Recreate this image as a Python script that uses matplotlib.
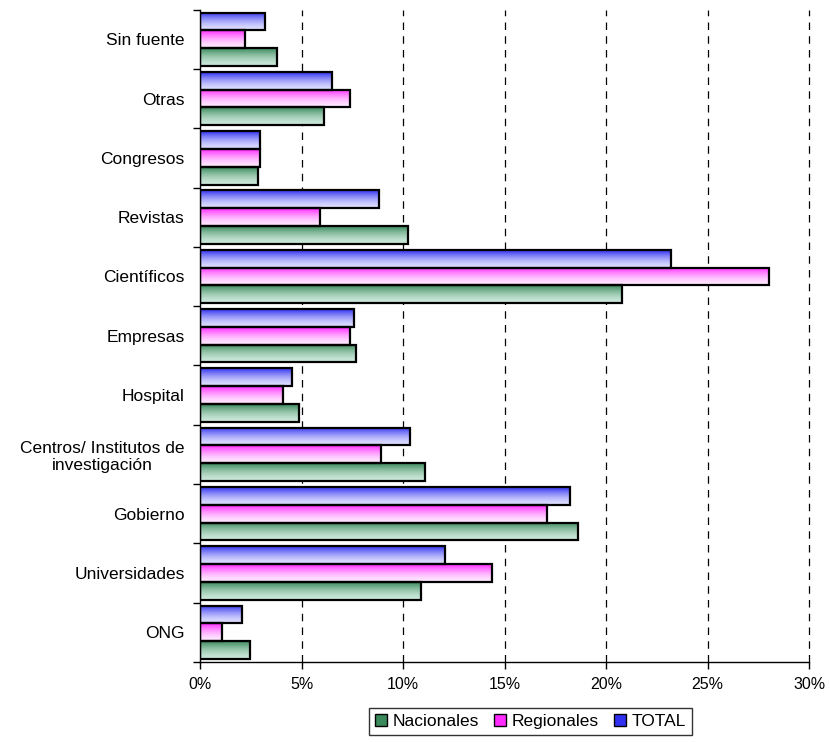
import numpy as np
import matplotlib
matplotlib.use("Agg")
import matplotlib.pyplot as plt
from matplotlib.patches import Patch
from matplotlib.colors import LinearSegmentedColormap
from matplotlib.ticker import FixedLocator, FuncFormatter

plt.rcParams["font.family"] = ["Liberation Sans", "DejaVu Sans"]

# ---- Data (bottom to top) ----
categories = ["ONG", "Universidades", "Gobierno", "Centros/ Institutos de\ninvestigación",
              "Hospital", "Empresas", "Científicos", "Revistas", "Congresos", "Otras",
              "Sin fuente"]
nacionales = [2.45, 10.9, 18.6, 11.1, 4.85, 7.7, 20.8, 10.25, 2.85, 6.1, 3.8]
regionales = [1.1, 14.4, 17.1, 8.9, 4.1, 7.4, 28.0, 5.9, 2.95, 7.4, 2.2]
total = [2.05, 12.05, 18.2, 10.35, 4.55, 7.6, 23.2, 8.8, 2.95, 6.5, 3.2]

series = [
    ("Nacionales", nacionales, "#3a8a5c", "#cce8da", -0.3),
    ("Regionales", regionales, "#ff2bff", "#ffe8ff", 0.0),
    ("TOTAL", total, "#3030f0", "#dedeff", 0.3),
]

fig = plt.figure(figsize=(8.3, 7.42), dpi=100)
ax = fig.add_axes([0.241, 0.108, 0.734, 0.879])

y = np.arange(len(categories))
bar_h = 0.3
# row 0 = bottom (light), last row = top (dark)
grad = (np.linspace(0, 1, 64) ** 1.6).reshape(-1, 1)

for name, vals, dark, light, off in series:
    cmap = LinearSegmentedColormap.from_list(name, [light, dark])
    bars = ax.barh(y + off, vals, height=bar_h, color="none",
                   edgecolor="black", linewidth=1.6, zorder=3)
    for b in bars:
        x0, y0 = b.get_x(), b.get_y()
        w, h = b.get_width(), b.get_height()
        im = ax.imshow(grad, cmap=cmap, aspect="auto", origin="lower",
                       extent=[x0, x0 + w, y0, y0 + h], zorder=2,
                       interpolation="bilinear", vmin=0, vmax=1)
        im.set_clip_path(b)

ax.set_xlim(0, 30)
ax.set_ylim(-0.5, len(categories) - 0.5)

# grid lines
for gx in [5, 10, 15, 20, 25, 30]:
    ax.axvline(gx, color="black", linestyle=(0, (6, 5)), linewidth=0.9,
               zorder=1, clip_on=False)

ax.set_xticks(np.arange(0, 31, 5))
ax.xaxis.set_major_formatter(FuncFormatter(lambda v, p: f"{int(v)}%"))
ax.set_yticks(y)
ax.set_yticklabels(categories, ha="right", multialignment="center")
ax.yaxis.set_minor_locator(FixedLocator(np.arange(-0.5, len(categories), 1)))
ax.tick_params(axis="y", which="major", length=0, pad=11, labelsize=12.5)
ax.tick_params(axis="y", which="minor", length=5, width=1, direction="out")
ax.tick_params(axis="x", length=5, width=1, direction="out", labelsize=11.5, pad=6)

for s in ["top", "right"]:
    ax.spines[s].set_visible(False)
for s in ["left", "bottom"]:
    ax.spines[s].set_linewidth(1.0)

handles = [Patch(facecolor=c, edgecolor="black", label=n)
           for n, _, c, _, _ in series]
leg = fig.legend(handles=handles, loc="center", bbox_to_anchor=(0.639, 0.028),
                 ncol=3, frameon=True, fancybox=False, edgecolor="black",
                 fontsize=12.5, handlelength=0.7, handleheight=0.7,
                 handletextpad=0.3, columnspacing=0.9, borderpad=0.35,
                 borderaxespad=0)
leg.get_frame().set_linewidth(1.0)

fig.savefig("out.png", dpi=100)
